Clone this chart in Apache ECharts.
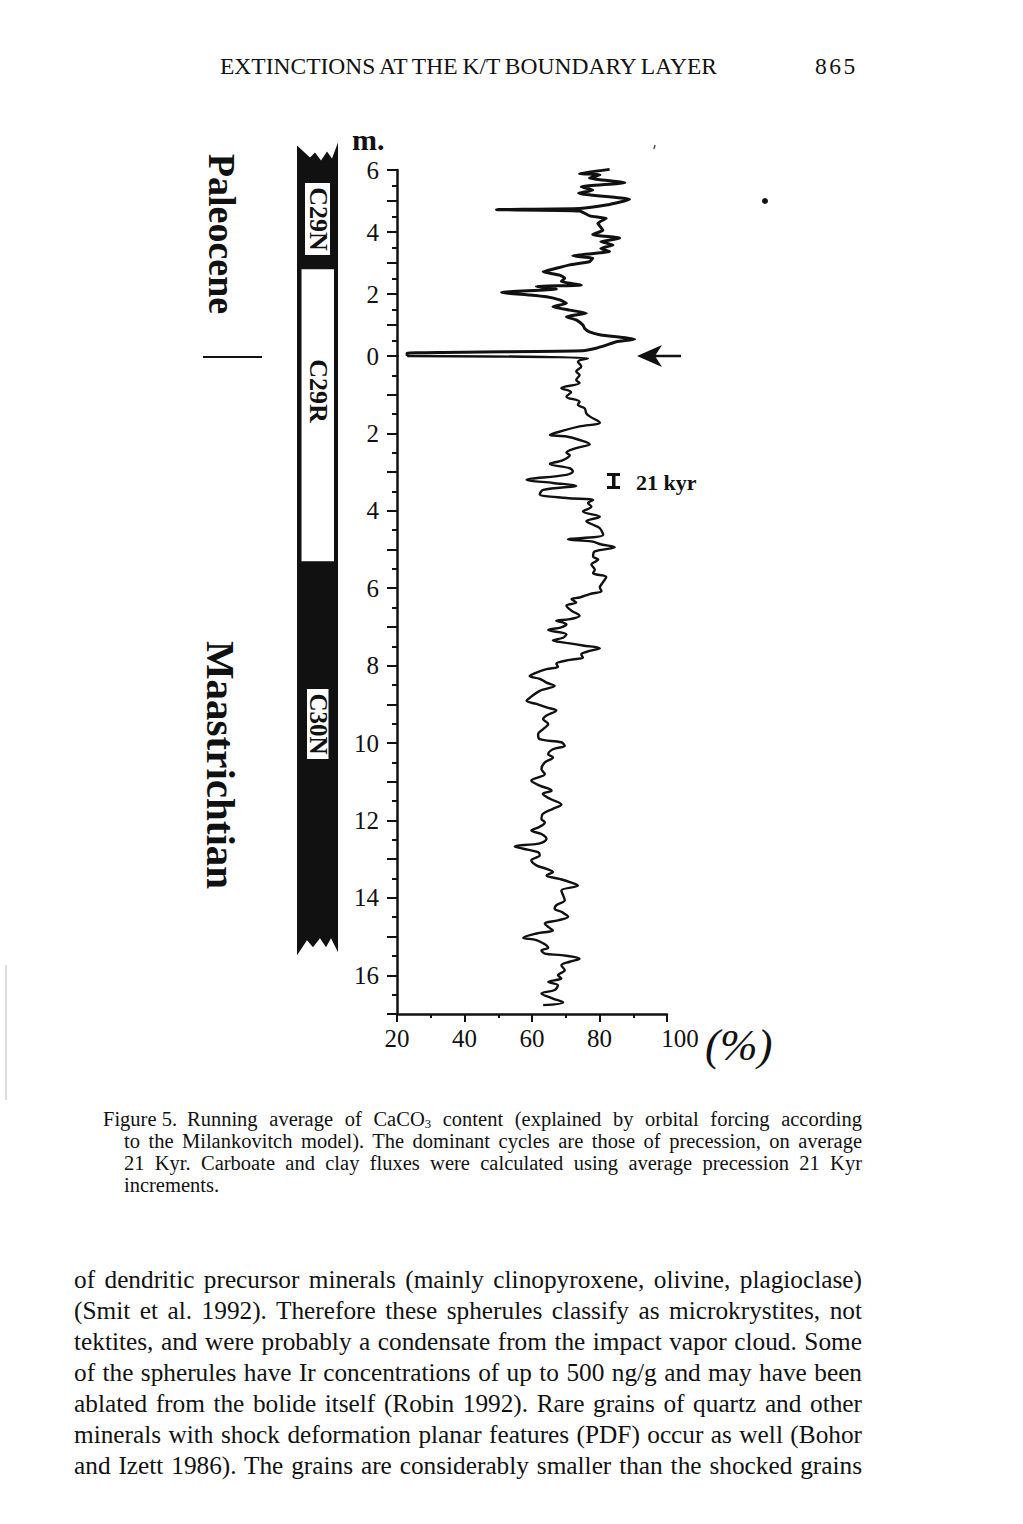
<!DOCTYPE html>
<html>
<head>
<meta charset="utf-8">
<script src="https://cdn.jsdelivr.net/npm/echarts@6/dist/echarts.min.js"></script>
<style>
  html, body { margin:0; padding:0; background:#fff; }
  body { width:1023px; height:1524px; position:relative; overflow:hidden; font-family:"Liberation Serif","DejaVu Serif",serif; color:#111; }
  #main { position:absolute; left:0; top:0; width:1023px; height:1524px; }
  .t { position:absolute; white-space:nowrap; }
  .cap { font-size:20.5px; line-height:22px; }
  .body { font-size:25.3px; line-height:31px; }
  sub { font-size:0.62em; vertical-align:-0.12em; line-height:0; }
</style>
</head>
<body>
<div id="main"></div>

<div class="t j" data-w="497" style="left:220px;top:52px;font-size:23.5px;line-height:28px;">EXTINCTIONS AT THE K/T BOUNDARY LAYER</div>
<div class="t" style="left:815px;top:52px;font-size:23.5px;line-height:28px;letter-spacing:2.5px;">865</div>

<div class="t cap" style="left:103px;top:1108px;">Figure 5.</div>
<div class="t cap j" data-w="675" style="left:187px;top:1108px;">Running average of CaCO<sub>3</sub> content (explained by orbital forcing according</div>
<div class="t cap j" data-w="738" style="left:124px;top:1130px;">to the Milankovitch model). The dominant cycles are those of precession, on average</div>
<div class="t cap j" data-w="738" style="left:124px;top:1152px;">21 Kyr. Carboate and clay fluxes were calculated using average precession 21 Kyr</div>
<div class="t cap" style="left:124px;top:1174px;">increments.</div>

<div class="t body j" data-w="788" style="left:74px;top:1264px;">of dendritic precursor minerals (mainly clinopyroxene, olivine, plagioclase)</div>
<div class="t body j" data-w="788" style="left:74px;top:1295px;">(Smit et al. 1992). Therefore these spherules classify as microkrystites, not</div>
<div class="t body j" data-w="788" style="left:74px;top:1326px;">tektites, and were probably a condensate from the impact vapor cloud. Some</div>
<div class="t body j" data-w="788" style="left:74px;top:1357px;">of the spherules have Ir concentrations of up to 500 ng/g and may have been</div>
<div class="t body j" data-w="788" style="left:74px;top:1388px;">ablated from the bolide itself (Robin 1992). Rare grains of quartz and other</div>
<div class="t body j" data-w="788" style="left:74px;top:1419px;">minerals with shock deformation planar features (PDF) occur as well (Bohor</div>
<div class="t body j" data-w="788" style="left:74px;top:1450px;">and Izett 1986). The grains are considerably smaller than the shocked grains</div>

<script>
// ---------------- data ----------------
// CaCO3 running average (%) vs height above the K/T boundary (m), Paleocene
const paleoceneCaCO3 = [
  [83.0,6.02],[74.1,5.89],[80.1,5.84],[77.0,5.74],[87.5,5.59],[74.6,5.46],[78.0,5.35],[73.8,5.25],
  [88.9,5.05],[82.0,4.87],[74.1,4.76],[49.5,4.72],[74.1,4.68],[77.1,4.52],[82.0,4.44],[79.5,4.28],
  [81.0,4.06],[78.0,3.92],[86.0,3.80],[80.4,3.69],[84.0,3.58],[80.4,3.47],[83.0,3.37],[72.1,3.23],
  [78.0,3.15],[77.0,3.04],[71.2,2.94],[67.2,2.83],[63.3,2.72],[68.2,2.61],[69.7,2.51],[68.7,2.40],
  [74.6,2.29],[61.3,2.24],[67.2,2.16],[51.0,2.05],[59.3,1.97],[64.3,1.91],[68.2,1.81],[70.2,1.70],
  [66.2,1.59],[71.2,1.48],[76.1,1.38],[70.2,1.27],[73.2,1.16],[75.1,1.00],[75.6,0.89],[77.0,0.78],
  [80.4,0.68],[90.4,0.54],[85.0,0.46],[82.0,0.35],[79.0,0.25],[75.1,0.17],[23.0,0.09],[23.0,0.0]
];
// CaCO3 running average (%) vs depth below the K/T boundary (m), Maastrichtian
const maastrichtianCaCO3 = [
  [23.0,0.0],[76.6,0.06],[73.6,0.15],[74.6,0.27],[73.1,0.40],[74.1,0.49],[73.1,0.62],[74.1,0.70],
  [68.7,0.83],[71.6,0.93],[70.2,1.05],[74.1,1.18],[73.6,1.26],[75.6,1.35],[76.1,1.48],[77.1,1.56],
  [80.1,1.72],[74.1,1.82],[69.2,1.93],[65.3,2.04],[70.2,2.08],[74.1,2.17],[77.1,2.28],[73.1,2.38],
  [70.2,2.50],[71.2,2.56],[69.2,2.69],[65.3,2.79],[71.2,2.90],[72.1,2.98],[70.2,3.07],[58.4,3.20],
  [66.2,3.28],[73.1,3.35],[63.3,3.46],[62.3,3.57],[70.2,3.67],[78.1,3.72],[76.6,3.80],[77.6,3.89],
  [75.1,4.02],[80.1,4.15],[76.1,4.27],[78.1,4.36],[80.1,4.45],[81.1,4.62],[70.7,4.74],[77.6,4.79],
  [80.6,4.87],[84.5,4.94],[78.6,5.05],[78.1,5.18],[79.6,5.26],[77.6,5.39],[78.6,5.52],[78.1,5.61],
  [82.0,5.71],[81.0,5.85],[80.1,5.98],[80.6,6.07],[77.1,6.15],[74.1,6.24],[71.7,6.28],[73.1,6.37],
  [70.2,6.45],[71.7,6.58],[74.1,6.71],[71.2,6.80],[67.2,6.84],[70.2,6.93],[68.7,7.01],[64.8,7.08],
  [70.2,7.19],[69.2,7.28],[66.2,7.35],[70.2,7.41],[75.1,7.48],[80.1,7.55],[77.1,7.62],[74.6,7.71],
  [75.1,7.79],[71.2,7.85],[67.2,7.95],[67.7,8.03],[64.3,8.09],[61.3,8.18],[59.3,8.27],[62.3,8.34],
  [64.3,8.44],[66.7,8.52],[62.3,8.65],[59.8,8.80],[58.4,8.91],[61.3,8.99],[64.3,9.08],[67.2,9.16],
  [64.3,9.29],[63.3,9.38],[64.8,9.51],[63.3,9.64],[61.8,9.77],[62.3,9.90],[68.7,9.98],[69.7,10.07],
  [66.2,10.16],[64.8,10.29],[66.2,10.37],[63.8,10.50],[62.8,10.67],[63.8,10.80],[59.8,10.97],[62.3,11.10],
  [65.3,11.19],[65.8,11.23],[63.2,11.31],[65.3,11.44],[68.7,11.59],[66.2,11.70],[63.2,11.83],[62.8,11.96],
  [63.8,12.05],[62.3,12.16],[59.8,12.26],[62.8,12.35],[64.3,12.48],[62.3,12.59],[54.9,12.67],[57.4,12.73],
  [61.8,12.82],[62.3,12.90],[59.8,13.03],[61.3,13.16],[64.3,13.25],[66.2,13.33],[64.3,13.42],[68.2,13.51],
  [71.2,13.59],[73.6,13.68],[68.7,13.81],[69.2,13.93],[69.7,14.06],[67.2,14.19],[66.7,14.28],[68.7,14.36],
  [70.7,14.49],[67.7,14.58],[63.8,14.66],[64.8,14.75],[66.2,14.84],[61.3,14.92],[57.4,15.03],[61.3,15.09],
  [63.8,15.20],[64.8,15.29],[62.8,15.36],[63.8,15.44],[68.7,15.48],[74.1,15.57],[71.2,15.65],[68.7,15.74],
  [69.7,15.87],[67.7,16.00],[68.7,16.08],[64.8,16.17],[67.7,16.26],[66.7,16.38],[62.8,16.47],[66.2,16.60],
  [69.2,16.70],[63.3,16.77]
];
// tick labels
const xTickLabels = [20, 40, 60, 80, 100];
const upperDepthLabels = [2, 4, 6];
const lowerDepthLabels = [0, 2, 4, 6, 8, 10, 12, 14, 16];
// magnetic polarity chrons: signed metres (+ above K/T, - below)
const chronNames = ['C29N', 'C29R', 'C30N'];
const chronPolarity = ['normal', 'reversed', 'normal'];
const chronBounds = [6.6, 2.8, -5.3, -15.2];

// ---------------- justify page text lines ----------------
document.querySelectorAll('.j').forEach(el => {
  const target = parseFloat(el.dataset.w);
  const natural = el.getBoundingClientRect().width;
  const spaces = (el.textContent.match(/ /g) || []).length;
  if (spaces > 0) el.style.wordSpacing = ((target - natural) / spaces).toFixed(3) + 'px';
});

// ---------------- chart ----------------
const chart = echarts.init(document.getElementById('main'), null, { renderer: 'svg', width: 1023, height: 1524 });
const INK = '#111';
const SERIF = '"Liberation Serif","DejaVu Serif",serif';

const yAxisCommon = {
  type: 'value', interval: 1,
  axisLine: { show: true, onZero: false, lineStyle: { color: INK, width: 2.5 } },
  axisTick: { show: true, length: 10, lineStyle: { color: INK, width: 2 } },
  minorTick: { show: true, splitNumber: 2, length: 5, lineStyle: { color: INK, width: 2 } },
  splitLine: { show: false }, minorSplitLine: { show: false },
  axisLabel: { color: INK, fontFamily: SERIF, fontSize: 25, margin: 18 }
};

chart.setOption({
  animation: false,
  backgroundColor: 'transparent',
  grid: [
    { left: 397, top: 170, width: 270, height: 186 },
    { left: 397, top: 356, width: 270, height: 658 }
  ],
  xAxis: [
    { gridIndex: 0, type: 'value', min: 20, max: 100, show: false },
    { gridIndex: 1, type: 'value', min: 20, max: 100, interval: 20, position: 'bottom',
      axisLine: { show: true, onZero: false, lineStyle: { color: INK, width: 2.5 } },
      axisTick: { show: true, length: 8, lineStyle: { color: INK, width: 2 } },
      minorTick: { show: true, splitNumber: 2, length: 4, lineStyle: { color: INK, width: 2 } },
      splitLine: { show: false },
      axisLabel: { color: INK, fontFamily: SERIF, fontSize: 25, margin: 12,
        formatter: v => !xTickLabels.includes(v) ? '' : (v === 100 ? '{h|100}' : String(v)),
        rich: { h: { fontFamily: SERIF, fontSize: 25, color: INK, padding: [0, 0, 0, 26] } } } }
  ],
  yAxis: [
    Object.assign({}, yAxisCommon, { gridIndex: 0, min: 0, max: 6,
      axisLabel: Object.assign({}, yAxisCommon.axisLabel, { formatter: v => upperDepthLabels.includes(v) ? String(v) : '' }) }),
    Object.assign({}, yAxisCommon, { gridIndex: 1, min: 0, max: 17, inverse: true,
      axisLabel: Object.assign({}, yAxisCommon.axisLabel, { formatter: v => lowerDepthLabels.includes(v) ? String(v) : '' }) })
  ],
  series: [
    { name: 'Paleocene CaCO3', type: 'line', xAxisIndex: 0, yAxisIndex: 0, data: paleoceneCaCO3,
      showSymbol: false, symbol: 'none', clip: false, smooth: 0.15,
      lineStyle: { color: INK, width: 3 } },
    { name: 'Maastrichtian CaCO3', type: 'line', xAxisIndex: 1, yAxisIndex: 1, data: maastrichtianCaCO3,
      showSymbol: false, symbol: 'none', clip: false, smooth: 0.35,
      lineStyle: { color: INK, width: 2.4 } }
  ]
});

// pixel of a signed depth through the library's axes
function depthPx(pos) {
  return pos >= 0 ? chart.convertToPixel({ yAxisIndex: 0 }, pos)
                  : chart.convertToPixel({ yAxisIndex: 1 }, -pos);
}

const colL = 297, colR = 338;
const yTop = depthPx(chronBounds[0]);
const yBot = depthPx(chronBounds[chronBounds.length - 1]);
const g = [];

// polarity column outline (black), with jagged ends
g.push({ type: 'polygon', shape: { points: [
  [colL, yTop - 6], [310, yTop + 6], [315, yTop + 1], [321, yTop + 9], [327, yTop], [332, yTop + 7], [colR, yTop - 9],
  [colR, yBot + 8], [331, yBot - 6], [326, yBot + 3], [320, yBot - 6], [313, yBot + 3], [307, yBot - 4], [colL, yBot + 11]
] }, style: { fill: INK } });
// reversed chrons (white)
chronPolarity.forEach((p, i) => {
  if (p !== 'reversed') return;
  const y1 = depthPx(chronBounds[i]), y2 = depthPx(chronBounds[i + 1]);
  g.push({ type: 'rect', shape: { x: colL + 4.5, y: y1, width: colR - colL - 8.5, height: y2 - y1 }, style: { fill: '#fff' } });
});
// chron labels
g.push({ type: 'rect', shape: { x: 305, y: 183, width: 25, height: 72 }, style: { fill: '#fff' } });
g.push({ type: 'text', x: 318, y: 219, rotation: -Math.PI / 2,
  style: { text: chronNames[0], font: 'bold 26px ' + SERIF, fill: INK, align: 'center', verticalAlign: 'middle' } });
g.push({ type: 'text', x: 318, y: 391, rotation: -Math.PI / 2,
  style: { text: chronNames[1], font: 'bold 26px ' + SERIF, fill: INK, align: 'center', verticalAlign: 'middle' } });
g.push({ type: 'rect', shape: { x: 307, y: 689, width: 21.5, height: 70 }, style: { fill: '#fff' } });
g.push({ type: 'text', x: 318, y: 724, rotation: -Math.PI / 2,
  style: { text: chronNames[2], font: 'bold 25px ' + SERIF, fill: INK, align: 'center', verticalAlign: 'middle' } });

// stage names
g.push({ type: 'text', x: 222, y: 234, rotation: -Math.PI / 2,
  style: { text: 'Paleocene', font: 'bold 38px ' + SERIF, fill: INK, align: 'center', verticalAlign: 'middle' } });
g.push({ type: 'text', x: 221, y: 765, rotation: -Math.PI / 2,
  style: { text: 'Maastrichtian', font: 'bold 41px ' + SERIF, fill: INK, align: 'center', verticalAlign: 'middle' } });
const yKT = depthPx(0);
g.push({ type: 'line', shape: { x1: 203, y1: yKT + 1, x2: 262, y2: yKT + 1 }, style: { stroke: INK, lineWidth: 2 } });

// axis unit texts
g.push({ type: 'text', x: 352, y: 139, style: { text: 'm.', font: 'bold 30px ' + SERIF, fill: INK, align: 'left', verticalAlign: 'middle' } });
g.push({ type: 'text', x: 705, y: 1045, style: { text: '(%)', font: 'italic 45px ' + SERIF, fill: INK, align: 'left', verticalAlign: 'middle' } });

// K/T arrow
g.push({ type: 'line', shape: { x1: 652, y1: yKT, x2: 681, y2: yKT }, style: { stroke: INK, lineWidth: 2.5 } });
g.push({ type: 'polygon', shape: { points: [[637, yKT], [662, yKT - 11], [655, yKT], [662, yKT + 11]] }, style: { fill: INK } });

// 21 kyr scale bar
g.push({ type: 'rect', shape: { x: 612, y: 474, width: 3.5, height: 14 }, style: { fill: INK } });
g.push({ type: 'rect', shape: { x: 607, y: 473, width: 13, height: 3 }, style: { fill: INK } });
g.push({ type: 'rect', shape: { x: 607, y: 486, width: 13, height: 3 }, style: { fill: INK } });
g.push({ type: 'text', x: 636, y: 482, style: { text: '21 kyr', font: 'bold 22px ' + SERIF, fill: INK, align: 'left', verticalAlign: 'middle' } });

// scan specks
g.push({ type: 'circle', shape: { cx: 765, cy: 201, r: 3 }, style: { fill: INK } });
g.push({ type: 'line', shape: { x1: 655, y1: 145, x2: 654, y2: 149 }, style: { stroke: '#555', lineWidth: 1.5 } });
g.push({ type: 'line', shape: { x1: 6, y1: 965, x2: 6, y2: 1100 }, style: { stroke: '#bbb', lineWidth: 1 } });

chart.setOption({ graphic: { elements: g } });
</script>
</body>
</html>
